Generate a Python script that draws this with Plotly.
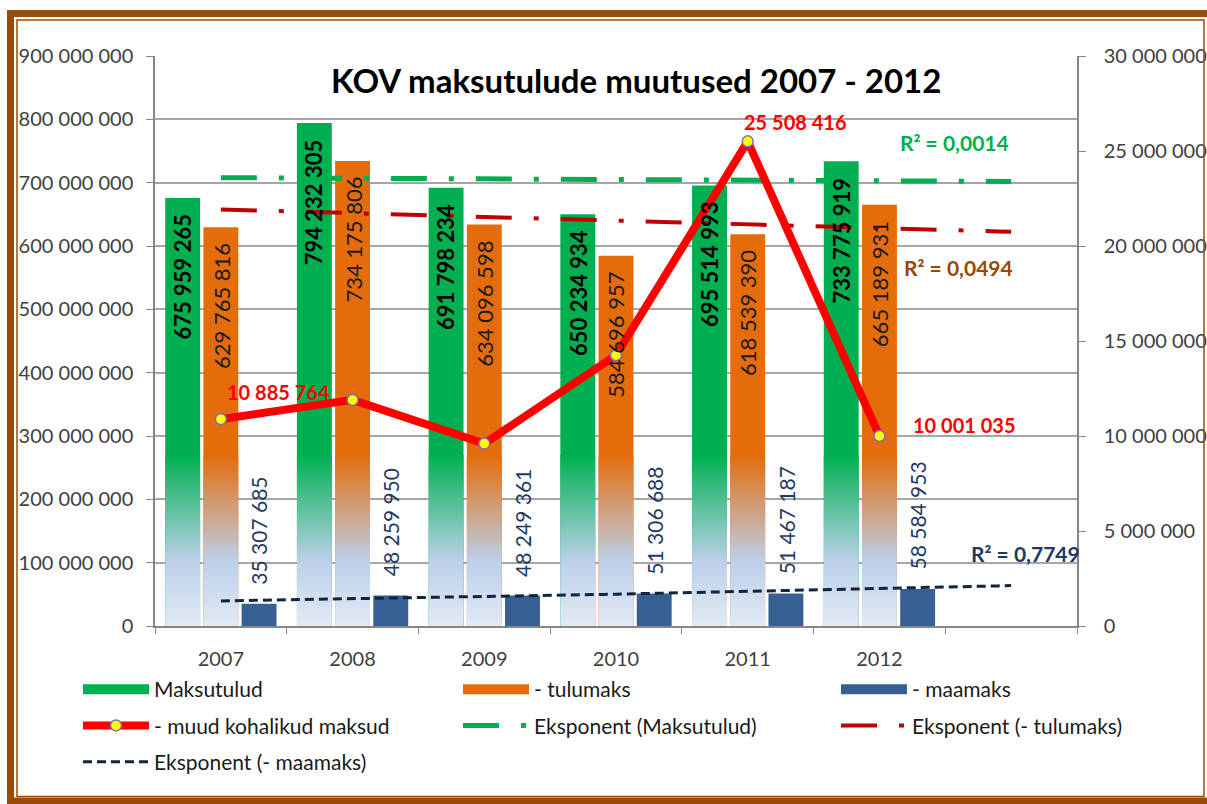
import numpy as np
import plotly.graph_objects as go

# ---------------- data ----------------
years = ["2007", "2008", "2009", "2010", "2011", "2012"]
maksutulud = [675959265, 794232305, 691798234, 650234934, 695514993, 733775919]
tulumaks = [629765816, 734175806, 634096598, 584696957, 618539390, 665189931]
maamaks = [35307685, 48259950, 48249361, 51306688, 51467187, 58584953]
muud = [10885764, 11900000, 9600000, 14250000, 25508416, 10001035]
muud_show_label = [True, False, False, False, True, True]
r2_values = [0.0014, 0.0494, 0.7749]

# ---------------- style ----------------
FONT = "Lato, 'Liberation Sans', Arial, sans-serif"
GREEN = "#00B050"
ORANGE = "#E46C0A"
BLUE = "#376092"
RED = "#FF0000"
DARKRED = "#C00000"
NAVY = "#10253F"
GRID = "#A6A6A6"
AXIS = "#868686"
FRAME = "#9A4B0A"

W, H = 1207, 804
PL, PR, PT, PB = 155, 1077, 56, 626  # plot area in px


def px_x(px):
    return (px - PL) / (PR - PL)


def px_y(py):
    return (PB - py) / (PB - PT)


def fmt(v):
    return f"{int(round(v)):,}".replace(",", " ")


BW = 0.265
offsets = [-0.4225, -0.1325, 0.1575]
centers = [o + BW / 2 for o in offsets]
xs = list(range(len(years)))
GRAD_TOP = 270_000_000

fig = go.Figure()

series = [
    ("Maksutulud", maksutulud, GREEN, "legend", "g1"),
    ("- tulumaks", tulumaks, ORANGE, "legend2", "g2"),
    ("- maamaks", maamaks, BLUE, "legend3", "g3"),
]
for k, (name, vals, col, leg, grp) in enumerate(series):
    fig.add_trace(go.Bar(
        x=xs, y=vals, width=BW, offset=offsets[k], name=name,
        marker=dict(color=col, line=dict(width=0)),
        showlegend=False, legendgroup=grp, hoverinfo="skip",
    ))

# gradient lower part for the first two bar series
for k in (0, 1):
    vals = series[k][1]
    col = series[k][2]
    px_, py_ = [], []
    for i, v in enumerate(vals):
        x0 = i + offsets[k]
        x1 = x0 + BW
        top = min(v, GRAD_TOP)
        px_ += [x0, x1, x1, x0, x0, None]
        py_ += [0, 0, top, top, 0, None]
    fig.add_trace(go.Scatter(
        x=px_, y=py_, mode="lines", fill="toself", line=dict(width=0),
        fillgradient=dict(type="vertical",
                          colorscale=[[0, "#E2EAF5"], [0.38, "#BCD0EA"], [1, col]]),
        showlegend=False, hoverinfo="skip",
    ))


# exponential trend lines (Excel style: x = 1..n, forecast 1 period)
def exp_fit(vals):
    xx = np.arange(1, len(vals) + 1)
    b, a = np.polyfit(xx, np.log(vals), 1)
    xf = np.linspace(1, len(vals) + 1, 61)
    return xf - 1, np.exp(a + b * xf)


# legend entries for the bar series (wide rectangle symbols)
for name, vals, col, leg, grp in series:
    fig.add_trace(go.Scatter(
        x=[None], y=[None], mode="lines", name=name,
        line=dict(color=col, width=12), legend=leg, legendgroup=grp,
        hoverinfo="skip",
    ))

fig.add_trace(go.Scatter(
    x=xs, y=muud, name="- muud kohalikud maksud", mode="lines+markers",
    line=dict(color=RED, width=8),
    marker=dict(size=11, color="#FFFF00", line=dict(color="#7F6FAF", width=1.5)),
    yaxis="y2", legend="legend", legendgroup="g4", hoverinfo="skip",
))

trend_specs = [
    ("Eksponent (Maksutulud)", maksutulud, GREEN, 5, "36px,22px,5px,22px", "legend2", "g5"),
    ("Eksponent (- tulumaks)", tulumaks, DARKRED, 4, "36px,22px,5px,22px", "legend3", "g6"),
    ("Eksponent (- maamaks)", maamaks, NAVY, 3, "9px,5px", "legend", "g7"),
]
for name, vals, col, wd, dash, leg, grp in trend_specs:
    tx, ty = exp_fit(vals)
    fig.add_trace(go.Scatter(
        x=tx, y=ty, name=name, mode="lines",
        line=dict(color=col, width=wd, dash=dash),
        legend=leg, legendgroup=grp, hoverinfo="skip",
    ))

annotations = []
# bar value labels
for i in xs:
    annotations.append(dict(
        x=i + centers[0], y=maksutulud[i], xref="x", yref="y", text=fmt(maksutulud[i]),
        textangle=-90, yanchor="top", xanchor="center", yshift=-14, showarrow=False,
        font=dict(family=FONT, size=22, color="#000000", weight="bold")))
    annotations.append(dict(
        x=i + centers[1], y=tulumaks[i], xref="x", yref="y", text=fmt(tulumaks[i]),
        textangle=-90, yanchor="top", xanchor="center", yshift=-14, showarrow=False,
        font=dict(family=FONT, size=22, color="#1A1A1A")))
    annotations.append(dict(
        x=i + centers[2], y=maamaks[i], xref="x", yref="y", text=fmt(maamaks[i]),
        textangle=-90, yanchor="bottom", xanchor="center", yshift=17, showarrow=False,
        font=dict(family=FONT, size=21, color="#1F3864")))

# line value labels
label_shift = {0: (58, 27), 4: (48, 19), 5: (85, 11)}
for i in xs:
    if muud_show_label[i]:
        dx, dy = label_shift[i]
        annotations.append(dict(
            x=i, y=muud[i], xref="x", yref="y2", text=fmt(muud[i]),
            xshift=dx, yshift=dy, showarrow=False,
            font=dict(family=FONT, size=20, color=RED, weight="bold")))

# R² labels
r2_pos = [(5.57, 763e6, GREEN), (5.6, 566e6, "#984807"), (6.11, 115e6, "#1F3864")]
for r2, (x, y, col) in zip(r2_values, r2_pos):
    annotations.append(dict(
        x=x, y=y, xref="x", yref="y", text=f"R² = {r2:.4f}".replace(".", ","),
        showarrow=False, font=dict(family=FONT, size=21, color=col, weight="bold")))

# title
annotations.append(dict(
    x=px_x(636), y=px_y(80), xref="paper", yref="paper",
    xanchor="center", yanchor="middle",
    text="KOV maksutulude muutused 2007 - 2012", showarrow=False,
    font=dict(family=FONT, size=33, color="#000000", weight="bold")))

# frame
shapes = [
    dict(type="rect", xref="paper", yref="paper",
         x0=px_x(10.5), x1=px_x(1214), y0=px_y(13.5), y1=px_y(801),
         line=dict(color=FRAME, width=7), fillcolor="rgba(0,0,0,0)", layer="above"),
    dict(type="rect", xref="paper", yref="paper",
         x0=px_x(17), x1=px_x(1204), y0=px_y(20), y1=px_y(796.5),
         line=dict(color=FRAME, width=1.5), fillcolor="rgba(0,0,0,0)", layer="above"),
]

tickfont = dict(family=FONT, size=20, color="#404040")
legfont = dict(family=FONT, size=21, color="#1A1A1A")
leg_common = dict(orientation="v", xanchor="left", yanchor="top", y=px_y(669),
                  font=legfont, bgcolor="rgba(0,0,0,0)", borderwidth=0,
                  tracegroupgap=6, itemwidth=66, traceorder="grouped")

fig.update_layout(
    width=W, height=H,
    margin=dict(l=PL, r=W - PR, t=PT, b=H - PB, autoexpand=False),
    paper_bgcolor="white", plot_bgcolor="white",
    separators=", ",
    barmode="overlay",
    showlegend=True,
    legend=dict(x=px_x(78), **leg_common),
    legend2=dict(x=px_x(458), **leg_common),
    legend3=dict(x=px_x(836), **leg_common),
    xaxis=dict(
        range=[-0.5, 6.5], tickmode="array", tickvals=xs, ticktext=years,
        ticks="", showgrid=False, zeroline=False, showline=True,
        linecolor=AXIS, linewidth=1.5, tickfont=tickfont, ticklabelstandoff=14,
        minor=dict(ticks="outside", ticklen=6, tickcolor=AXIS, tickwidth=1.2,
                   tick0=0.5, dtick=1, showgrid=False),
        automargin=False,
    ),
    yaxis=dict(
        range=[0, 900_000_000], dtick=100_000_000, tickformat=",d",
        showgrid=True, gridcolor=GRID, gridwidth=1.5, zeroline=False,
        showline=True, linecolor=AXIS, linewidth=1.5,
        ticks="outside", ticklen=7, tickcolor=AXIS, tickfont=tickfont,
        ticklabelstandoff=9, automargin=False,
    ),
    yaxis2=dict(
        range=[0, 30_000_000], dtick=5_000_000, tickformat=",d",
        overlaying="y", side="right", showgrid=False, zeroline=False,
        showline=True, linecolor=AXIS, linewidth=1.5,
        ticks="outside", ticklen=7, tickcolor=AXIS, tickfont=tickfont,
        ticklabelstandoff=14, automargin=False,
    ),
    annotations=annotations,
    shapes=shapes,
)

fig.write_html("out.html", config={"displayModeBar": False},
               post_script="document.body.style.margin='0';document.body.style.overflow='hidden';")
